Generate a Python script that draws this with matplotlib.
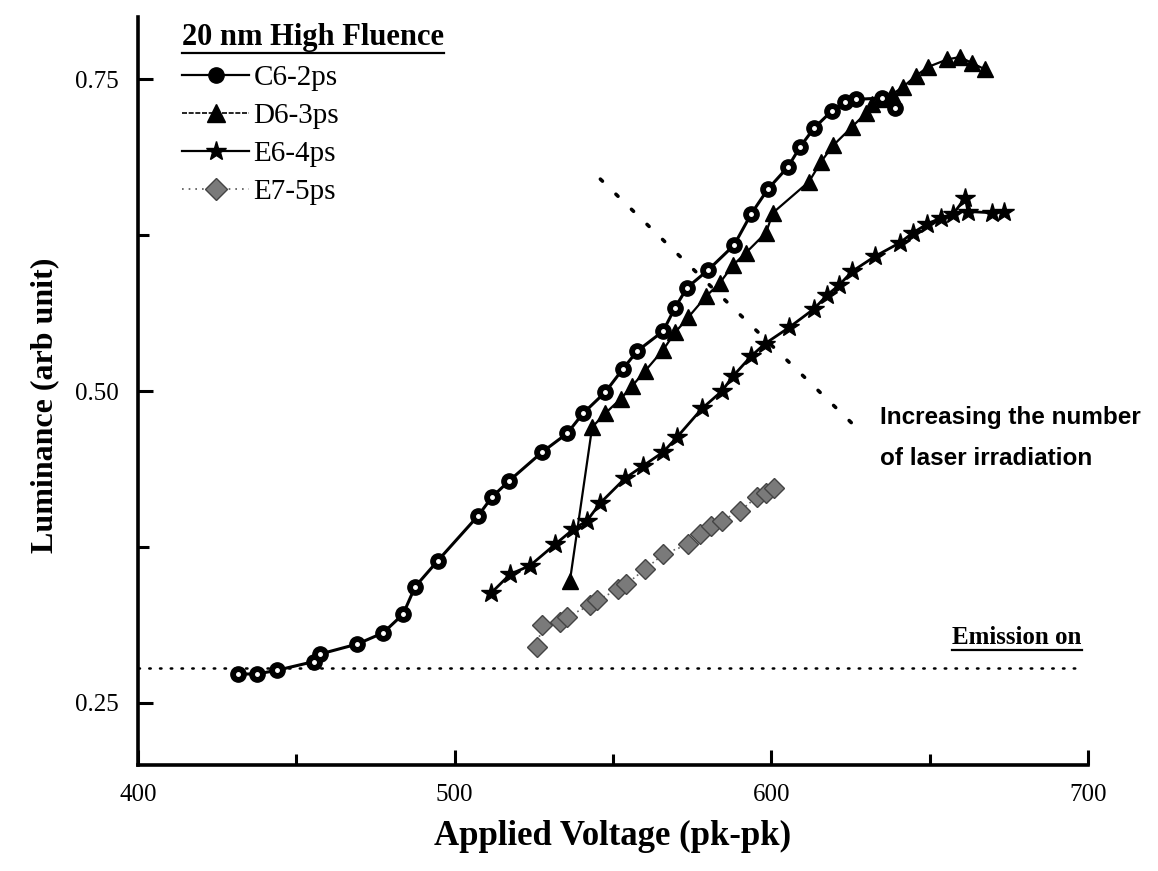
import matplotlib
matplotlib.use("Agg")
import matplotlib.pyplot as plt
from matplotlib.lines import Line2D

# data
c6_v = [431.6, 437.6, 443.9, 455.6, 457.5, 469.2, 477.4, 483.7, 487.5, 494.7,
        507.4, 511.8, 517.2, 527.6, 535.5, 540.5, 547.5, 553.2, 557.6, 565.8,
        569.6, 573.4, 580.0, 588.2, 593.6, 598.9, 605.3, 609.1, 613.5, 619.2,
        623.3, 626.7, 634.9, 639.0]
c6_l = [0.273, 0.273, 0.276, 0.283, 0.289, 0.297, 0.306, 0.321, 0.343, 0.364,
        0.400, 0.415, 0.428, 0.451, 0.466, 0.482, 0.499, 0.518, 0.532, 0.548,
        0.567, 0.583, 0.597, 0.617, 0.642, 0.662, 0.680, 0.696, 0.711, 0.725,
        0.732, 0.734, 0.735, 0.727]

d6_v = [536.4, 543.4, 547.5, 552.5, 556.0, 560.1, 565.8, 569.6, 573.7, 579.4,
        583.8, 587.9, 592.0, 598.3, 600.5, 611.9, 615.7, 619.5, 625.5, 629.9,
        631.8, 635.6, 638.1, 641.6, 645.7, 649.5, 655.5, 659.6, 663.4, 667.5]
d6_l = [0.348, 0.471, 0.482, 0.494, 0.504, 0.516, 0.533, 0.547, 0.559, 0.576,
        0.587, 0.601, 0.611, 0.627, 0.643, 0.668, 0.684, 0.697, 0.712, 0.723,
        0.730, 0.734, 0.738, 0.744, 0.753, 0.760, 0.766, 0.768, 0.763, 0.758]

e6_v = [511.5, 517.5, 523.8, 531.7, 537.4, 541.8, 545.9, 553.8, 559.5, 565.8,
        570.2, 578.1, 584.4, 587.9, 593.6, 598.0, 605.6, 613.5, 617.6, 621.4,
        625.5, 632.7, 640.6, 644.7, 649.2, 653.6, 657.4, 661.2, 662.1, 669.7,
        673.5]
e6_l = [0.338, 0.353, 0.360, 0.377, 0.389, 0.396, 0.410, 0.430, 0.440, 0.451,
        0.463, 0.486, 0.500, 0.512, 0.528, 0.538, 0.551, 0.566, 0.577, 0.585,
        0.596, 0.608, 0.619, 0.627, 0.634, 0.639, 0.642, 0.655, 0.644, 0.643,
        0.644]

e7_v = [526.0, 527.6, 533.3, 535.5, 542.7, 544.9, 551.6, 554.1, 560.1, 565.8,
        573.7, 577.5, 581.0, 584.4, 590.1, 595.5, 598.3, 600.8]
e7_l = [0.295, 0.312, 0.315, 0.319, 0.328, 0.332, 0.341, 0.345, 0.357, 0.369,
        0.377, 0.385, 0.392, 0.396, 0.404, 0.415, 0.418, 0.422]

emission_level = 0.278
arrow_v = [546.0, 625.5]
arrow_l = [0.670, 0.474]

serif = ["Liberation Serif", "DejaVu Serif"]
narrow = ["Liberation Sans Narrow", "Liberation Sans", "DejaVu Sans"]

fig = plt.figure(figsize=(11.58, 8.71), dpi=100)
ax = fig.add_axes([0.1192, 0.1217, 0.8204, 0.8587])

ax.plot(c6_v, c6_l, color="black", lw=2.2, marker="o", ms=11,
        mfc="black", mec="black", zorder=4)
ax.plot(c6_v, c6_l, ls="none", marker="o", ms=2.5, mfc="white", mec="white", zorder=5)
ax.plot(d6_v, d6_l, color="black", lw=1.6, marker="^", ms=12,
        mfc="black", mec="black", zorder=3)
ax.plot(e6_v, e6_l, color="black", lw=2.0, marker="*", ms=15,
        mfc="black", mec="black", zorder=3)
ax.plot(e7_v, e7_l, color="#666666", lw=1.2, ls=(0, (1, 2)), marker="D", ms=10.5,
        mfc="#7a7a7a", mec="#444444", zorder=3)

# emission threshold and guide arrow
ax.plot([400, 698], [emission_level, emission_level], color="black", lw=1.8,
        ls=(0, (0.6, 3.7)), dash_capstyle="round")
ax.plot(arrow_v, arrow_l, color="black", lw=2.6, ls=(0, (0.8, 5.2)),
        dash_capstyle="round")

ax.set_xlim(400, 700)
ax.set_ylim(0.20, 0.80)
ax.set_xticks([400, 500, 600, 700])
ax.set_xticks([450, 550, 650], minor=True)
ax.set_yticks([0.25, 0.50, 0.75])
ax.set_yticks([0.375, 0.625], minor=True)
ax.set_yticklabels(["0.25", "0.50", "0.75"])

for s in ["top", "right"]:
    ax.spines[s].set_visible(False)
for s in ["left", "bottom"]:
    ax.spines[s].set_linewidth(2.6)

ax.tick_params(which="major", direction="in", length=11, width=2.2, pad=14,
               labelsize=18)
ax.tick_params(which="minor", direction="in", length=8, width=2.2)
for lab in ax.get_xticklabels() + ax.get_yticklabels():
    lab.set_family(serif)

ax.set_xlabel("Applied Voltage (pk-pk)", family=serif, fontweight="bold", fontsize=25)
ax.set_ylabel("Luminance (arb unit)", family=serif, fontweight="bold", fontsize=23)
ax.xaxis.set_label_coords(0.5, -0.073)
ax.yaxis.set_label_coords(-0.083, 0.481)

# legend
handles = [
    Line2D([], [], color="black", lw=1.6, marker="o", ms=11, mfc="black"),
    Line2D([], [], color="black", lw=1.2, ls=(0, (3, 1)), marker="^", ms=13, mfc="black"),
    Line2D([], [], color="black", lw=1.6, marker="*", ms=15, mfc="black"),
    Line2D([], [], color="#555555", lw=1.2, ls=(0, (1, 3)), marker="D", ms=11,
           mfc="#7a7a7a", mec="#444444"),
]
labels = ["C6-2ps", "D6-3ps", "E6-4ps", "E7-5ps"]
ax.legend(handles, labels, loc="upper left", bbox_to_anchor=(0.034, 0.952),
          frameon=False, prop={"family": serif, "size": 21},
          handlelength=2.3, handletextpad=0.15, labelspacing=0.4,
          borderaxespad=0)

t1 = fig.text(182 / 1158, 1 - 38 / 871, "20 nm High Fluence", family=serif,
              fontweight="bold", fontsize=22, ha="left", va="center")
t2 = ax.text(698, 0.293, "Emission on", family=serif, fontweight="bold",
             fontsize=18, ha="right", va="bottom")
ax.text(634.3, 0.488, "Increasing the number\nof laser irradiation",
        family=narrow, fontweight="bold", fontsize=17.5, ha="left", va="top",
        linespacing=2.0)

# underline the two headings
fig.canvas.draw()
r = fig.canvas.get_renderer()
for t in (t1, t2):
    bb = t.get_window_extent(r)
    y = bb.y0 - 1
    fig.add_artist(Line2D([bb.x0 / 1158, bb.x1 / 1158], [y / 871, y / 871],
                          transform=fig.transFigure, color="black", lw=1.6))

fig.savefig("out.png", dpi=100)
